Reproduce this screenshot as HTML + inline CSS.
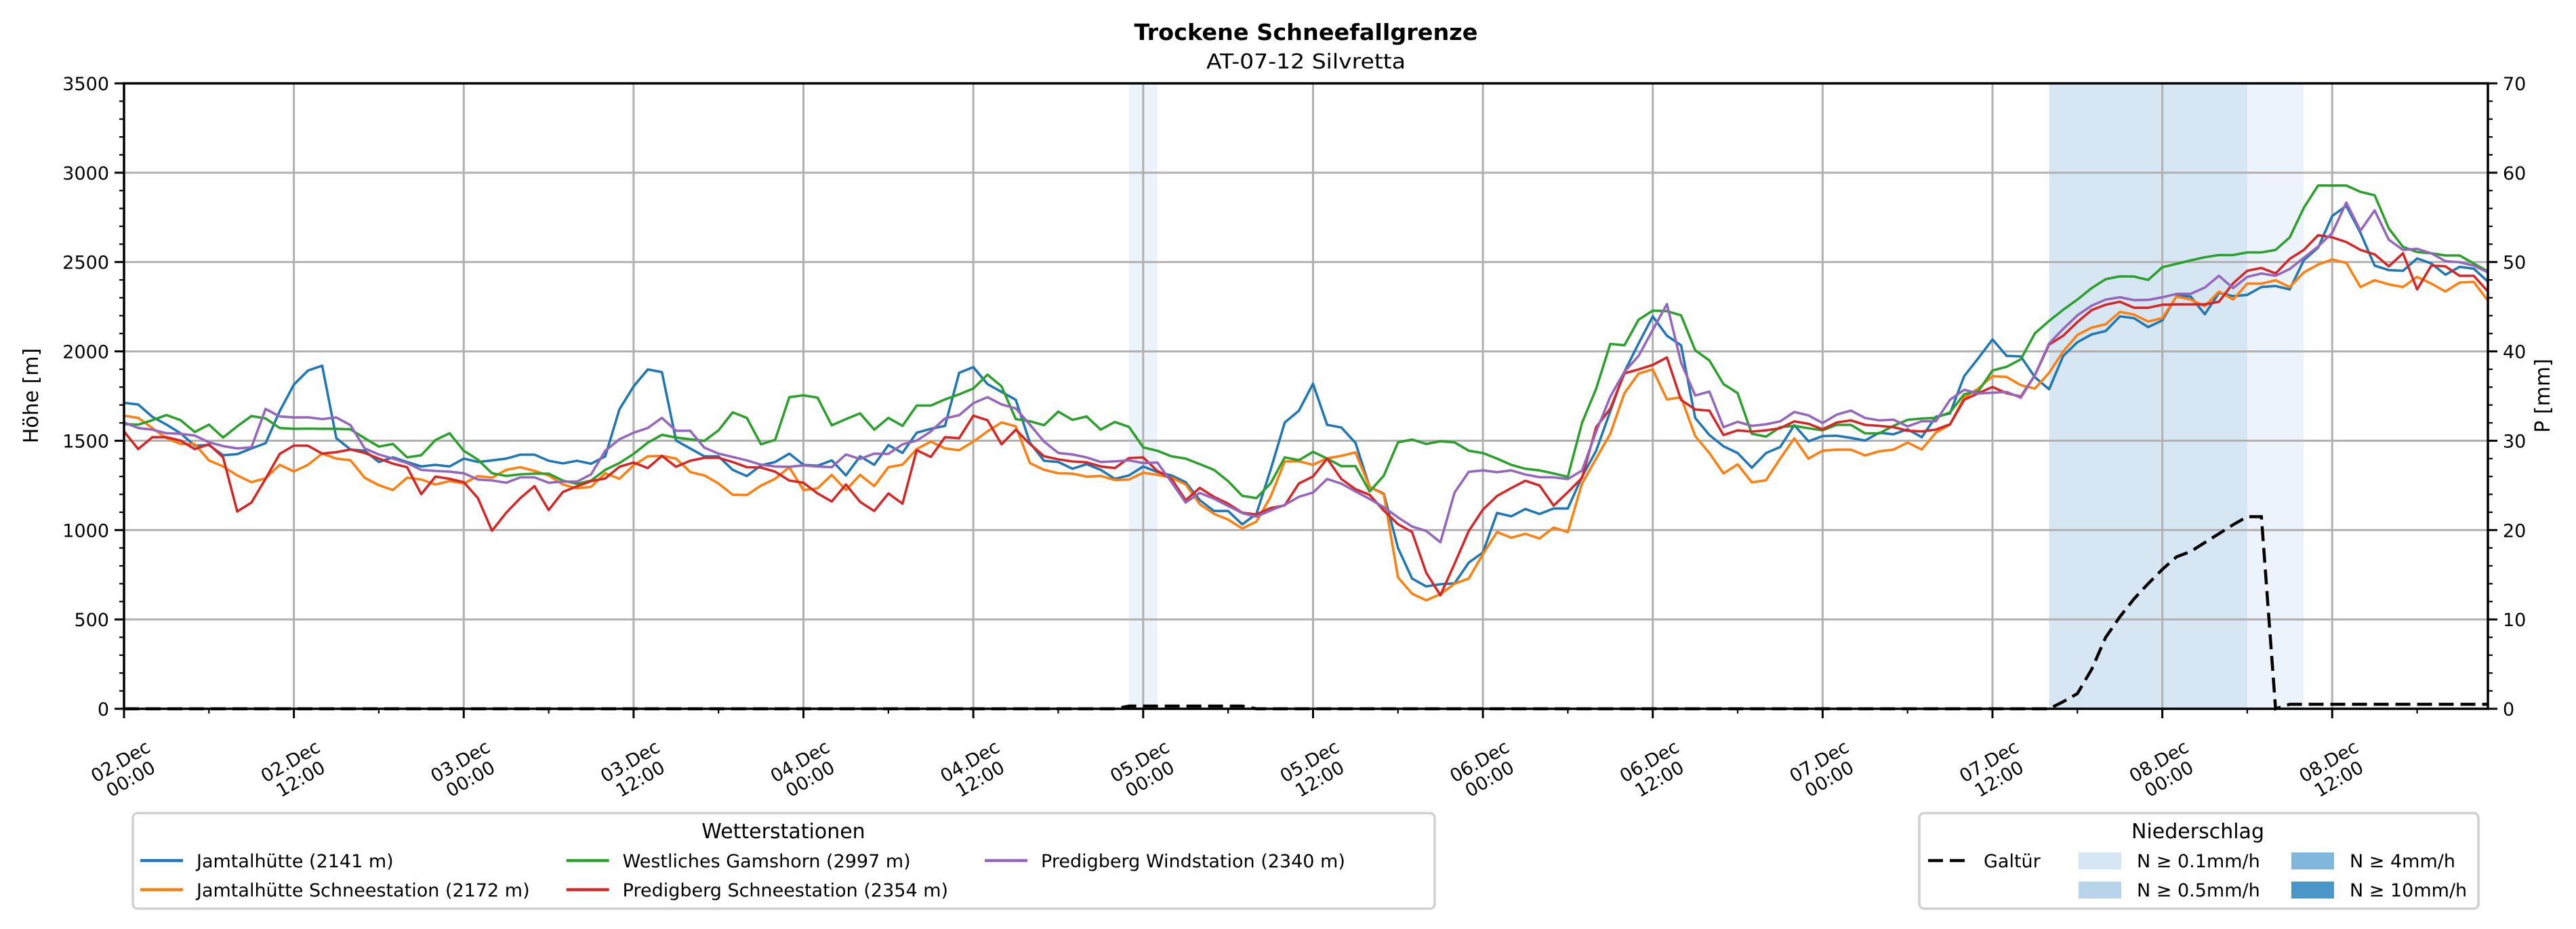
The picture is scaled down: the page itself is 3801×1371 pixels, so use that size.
<!DOCTYPE html>
<html><head><meta charset="utf-8"><title>Trockene Schneefallgrenze</title>
<style>
html,body{margin:0;padding:0;background:#fff;}
svg{display:block;font-family:"DejaVu Sans","Liberation Sans",sans-serif;}
</style></head>
<body>
<svg id="chart" xmlns="http://www.w3.org/2000/svg" width="3801" height="1371" viewBox="0 0 3801 1371">
<rect x="0" y="0" width="3801" height="1371" fill="#ffffff"/>
<text x="1927" y="59" text-anchor="middle" font-size="33" font-weight="bold" textLength="507" lengthAdjust="spacingAndGlyphs">Trockene Schneefallgrenze</text>
<text x="1927" y="101" text-anchor="middle" font-size="30" textLength="294" lengthAdjust="spacingAndGlyphs">AT-07-12 Silvretta</text>
<g id="bands"></g>
<g id="grid"></g>
<g id="series"></g>
<g id="axes"></g>
<g id="legend1"></g>
<g id="legend2"></g>
</svg>
<script>
// ---- data ----
const hourLabelsDay = ['02.Dec','02.Dec','03.Dec','03.Dec','04.Dec','04.Dec','05.Dec','05.Dec','06.Dec','06.Dec','07.Dec','07.Dec','08.Dec','08.Dec'];
const hourLabelsTime = ['00:00','12:00','00:00','12:00','00:00','12:00','00:00','12:00','00:00','12:00','00:00','12:00','00:00','12:00'];
const xTickHours = [0,12,24,36,48,60,72,84,96,108,120,132,144,156];
const yTicksLeft = [0,500,1000,1500,2000,2500,3000,3500];
const yTicksRight = [0,10,20,30,40,50,60,70];
const seriesNames = ['Jamtalhütte (2141 m)','Jamtalhütte Schneestation (2172 m)','Westliches Gamshorn (2997 m)','Predigberg Schneestation (2354 m)','Predigberg Windstation (2340 m)'];
const jamtal = [1712,1703,1634,1590,1542,1472,1476,1419,1425,1457,1486,1665,1814,1893,1920,1514,1451,1444,1381,1407,1381,1356,1365,1356,1400,1381,1390,1400,1422,1422,1388,1373,1388,1371,1413,1676,1804,1899,1884,1501,1457,1413,1413,1337,
1302,1362,1381,1428,1365,1360,1390,1306,1413,1365,1476,1432,1545,1567,1583,1880,1912,1817,1773,1729,1489,1388,1381,1343,1369,1337,1287,1306,1356,1325,1306,1268,1167,1107,1107,1032,1091,1337,1602,1668,1819,
1589,1574,1488,1241,1204,900,729,685,697,702,818,875,1096,1077,1118,1090,1121,1121,1298,1444,1665,1886,2044,2196,2088,2034,1627,1532,1469,1431,1349,1431,1465,1587,1497,1526,1528,1516,1501,1545,1536,1564,
1520,1634,1653,1861,1962,2067,1975,1972,1855,1788,1975,2051,2095,2114,2196,2186,2136,2173,2309,2307,2208,2328,2309,2316,2360,2366,2347,2511,2580,2758,2814,2663,2480,2455,2451,2520,2492,2429,2473,2463,2391];
const jamtalSchnee = [1640,1628,1571,1514,1482,1482,1390,1356,1306,1268,1290,1365,1328,1365,1428,1400,1391,1293,1251,1224,1293,1283,1255,1274,1261,1302,1293,1337,1352,1331,1306,1255,1234,1242,1318,1287,1362,1413,1415,1400,1325,1306,1261,1198,
1196,1249,1287,1352,1224,1234,1309,1224,1309,1246,1352,1366,1453,1495,1457,1447,1495,1552,1602,1581,1375,1337,1318,1316,1299,1303,1280,1283,1321,1309,1293,1255,1145,1091,1059,1009,1047,1186,1384,1385,1365,
1402,1415,1435,1241,1200,736,644,607,641,700,729,865,989,957,979,953,1014,989,1260,1400,1539,1766,1876,1899,1731,1743,1526,1431,1317,1368,1267,1279,1400,1513,1400,1444,1450,1450,1418,1441,1450,1490,
1451,1545,1590,1741,1792,1861,1857,1811,1792,1880,2000,2092,2133,2152,2221,2206,2167,2186,2307,2290,2253,2335,2290,2379,2379,2398,2360,2442,2486,2514,2495,2360,2398,2375,2360,2417,2379,2335,2385,2389,2284];
const gamshorn = [1593,1590,1615,1644,1615,1549,1590,1518,1581,1638,1625,1571,1567,1568,1567,1567,1564,1514,1467,1482,1407,1419,1504,1542,1444,1394,1318,1303,1312,1316,1316,1277,1259,1277,1337,1375,1426,1489,1533,1518,1508,1499,1558,1659,
1628,1480,1505,1744,1754,1741,1586,1621,1653,1562,1628,1583,1697,1697,1731,1760,1792,1870,1804,1621,1609,1587,1663,1617,1636,1562,1605,1577,1463,1444,1413,1400,1369,1337,1274,1192,1179,1261,1407,1391,1438,
1400,1358,1358,1216,1305,1491,1507,1482,1497,1491,1444,1431,1400,1365,1343,1334,1317,1298,1599,1791,2042,2034,2177,2228,2225,2202,2006,1949,1817,1766,1539,1523,1576,1583,1570,1558,1589,1589,1541,1541,1583,1617,
1624,1628,1659,1760,1777,1893,1914,1956,2101,2170,2233,2290,2354,2404,2420,2419,2400,2471,2490,2509,2527,2539,2539,2554,2554,2568,2638,2804,2928,2928,2928,2893,2874,2688,2585,2556,2549,2537,2537,2492,2448];
const predigSchnee = [1552,1453,1520,1520,1501,1453,1480,1407,1104,1154,1287,1426,1473,1472,1428,1436,1451,1432,1400,1372,1352,1201,1299,1287,1268,1179,996,1097,1179,1246,1112,1213,1245,1274,1289,1354,1378,1347,1415,1354,1388,1404,1404,1381,
1352,1350,1327,1277,1265,1205,1160,1255,1158,1107,1205,1148,1447,1409,1520,1514,1640,1615,1480,1562,1482,1413,1396,1384,1379,1356,1347,1403,1407,1331,1287,1167,1236,1186,1148,1097,1087,1123,1138,1261,1300,
1400,1286,1229,1197,1109,1033,989,761,635,812,995,1115,1191,1235,1276,1250,1137,1212,1292,1576,1680,1877,1899,1924,1966,1728,1675,1668,1532,1558,1551,1558,1570,1608,1595,1564,1602,1614,1589,1583,1576,1556,
1552,1562,1592,1729,1766,1801,1766,1747,1867,2038,2088,2164,2231,2261,2278,2244,2244,2261,2263,2263,2263,2278,2381,2451,2467,2436,2518,2568,2650,2638,2612,2568,2543,2476,2549,2347,2480,2476,2423,2423,2335];
const predigWind = [1602,1571,1562,1542,1539,1529,1491,1470,1457,1463,1678,1636,1630,1631,1621,1630,1587,1457,1423,1400,1375,1337,1331,1327,1318,1283,1278,1265,1295,1295,1265,1271,1271,1312,1444,1508,1545,1571,1628,1556,1556,1461,1428,1409,
1390,1366,1356,1354,1362,1356,1352,1423,1398,1428,1426,1480,1501,1552,1625,1643,1710,1744,1703,1681,1590,1495,1432,1423,1407,1381,1385,1390,1375,1378,1268,1154,1208,1176,1135,1095,1075,1110,1141,1186,1210,
1286,1260,1216,1174,1128,1071,1020,995,932,1210,1326,1334,1324,1334,1311,1296,1295,1286,1333,1551,1747,1886,1975,2120,2265,1937,1753,1775,1576,1606,1583,1592,1608,1661,1642,1599,1646,1669,1627,1614,1618,1580,
1609,1609,1729,1785,1764,1769,1773,1741,1867,2044,2126,2202,2256,2290,2303,2287,2288,2303,2322,2322,2357,2423,2354,2417,2436,2423,2461,2524,2587,2663,2833,2676,2789,2625,2568,2574,2549,2505,2499,2480,2442];
const galtur = [0,0,0,0,0,0,0,0,0,0,0,0,0,0,0,0,0,0,0,0,0,0,0,0,0,0,0,0,0,0,0,0,0,0,0,0,0,0,0,0,0,0,0,0,0,0,0,0,0,0,0,0,0,0,0,0,0,0,0,0,0,0,0,0,0,0,0,0,0,0,0,
0.3,0.3,0.3,0.3,0.3,0.3,0.3,0.3,0.3,
0,0,0,0,0,0,0,0,0,0,0,0,0,0,0,0,0,0,0,0,0,0,0,0,0,0,0,0,0,0,0,0,0,0,0,0,0,0,0,0,0,0,0,0,0,0,0,0,0,0,0,0,0,0,0,0,0,
0.8,1.7,4.4,8.0,10.3,12.3,14.0,15.6,17.0,17.6,18.6,19.6,20.6,21.5,21.5,
0,
0.5,0.5,0.5,0.5,0.5,0.5,0.5,0.5,0.5,0.5,0.5,0.5,0.5,0.5,0.5];
const bandStart = [71,136,150];
const bandEnd = [73,150,154];
const bandLevel = [0.1,0.5,0.1];

// ---- scales ----
const L=183,R=3671,T=123,B=1046;
const X_MAX=167;
function xs(h){return L+h*(R-L)/X_MAX;}
function yl(v){return B-v*(B-T)/3500;}
function yr(p){return B-p*(B-T)/70;}
const NS='http://www.w3.org/2000/svg';
function mk(tag,attrs,parent){const e=document.createElementNS(NS,tag);for(const k in attrs)e.setAttribute(k,attrs[k]);parent.appendChild(e);return e;}
const colors=['#1f77b4','#ff7f0e','#2ca02c','#d62728','#9467bd'];
const bandColor={0.1:'#edf3fa',0.5:'#d7e6f3',4:'#bfd9ec',10:'#a4c9e3'};

// bands
const gB=document.getElementById('bands');
for(let i=0;i<bandStart.length;i++){
  const r=mk('rect',{x:xs(bandStart[i]),y:T,width:xs(bandEnd[i])-xs(bandStart[i]),height:B-T,fill:bandColor[bandLevel[i]]},gB);
  
  
}
// grid
const gG=document.getElementById('grid');
xTickHours.forEach(h=>{
  const l=mk('line',{x1:xs(h),x2:xs(h),y1:T,y2:B,stroke:'#b0b0b0','stroke-width':3},gG);
  
  
});
yTicksLeft.forEach(v=>{
  const l=mk('line',{x1:L,x2:R,y1:yl(v),y2:yl(v),stroke:'#b0b0b0','stroke-width':3},gG);
  
  
});
// series
const gS=document.getElementById('series');
const allSeries=[jamtal,jamtalSchnee,gamshorn,predigSchnee,predigWind];
const seriesIds=['series-jamtalhuette','series-jamtalhuette-schneestation','series-westliches-gamshorn','series-predigberg-schneestation','series-predigberg-windstation'];
allSeries.forEach((arr,si)=>{
  const pts=arr.map((v,h)=>xs(h).toFixed(1)+','+yl(v).toFixed(1)).join(' ');
  const p=mk('polyline',{points:pts,fill:'none',stroke:colors[si],'stroke-width':3.6,'stroke-linejoin':'round'},gS);
  
  
});
const gpts=galtur.map((v,h)=>xs(h).toFixed(1)+','+yr(v).toFixed(1)).join(' ');
const gl=mk('polyline',{points:gpts,fill:'none',stroke:'#000','stroke-width':4.5,'stroke-dasharray':'22 10'},gS);



// axes
const gA=document.getElementById('axes');
const fr=mk('rect',{x:L,y:T,width:R-L,height:B-T,fill:'none',stroke:'#000','stroke-width':3.5},gA);


for(let v=0;v<=3500;v+=100){
  const maj=(v%500===0);
  const t=mk('line',{x1:L,x2:L-(maj?14:7),y1:yl(v),y2:yl(v),stroke:'#000','stroke-width':maj?3:2.2},gA);
  
  
}
for(let p=0;p<=70;p+=2){
  const maj=(p%10===0);
  const t=mk('line',{x1:R,x2:R-(maj?-14:-7),y1:yr(p),y2:yr(p),stroke:'#000','stroke-width':maj?3:2.2},gA);
  
  
}
for(let h=0;h<=166;h+=6){
  const maj=(h%12===0);
  const t=mk('line',{x1:xs(h),x2:xs(h),y1:B,y2:B+(maj?14:7),stroke:'#000','stroke-width':maj?3:2.2},gA);
  
  
}
yTicksLeft.forEach(v=>{
  const t=mk('text',{x:L-22,y:yl(v)+10,'text-anchor':'end','font-size':27},gA);
  t.textContent=String(v);
  
  
});
yTicksRight.forEach(p=>{
  const t=mk('text',{x:R+22,y:yr(p)+10,'text-anchor':'start','font-size':27},gA);
  t.textContent=String(p);
  
  
});
xTickHours.forEach((h,i)=>{
  const g=mk('g',{transform:'translate('+(xs(h)+2)+',1136) rotate(-30)'},gA);
  
  
  const a=mk('text',{x:0,y:-5,'text-anchor':'middle','font-size':27},g);
  a.textContent=hourLabelsDay[i];
  const b=mk('text',{x:0,y:25,'text-anchor':'middle','font-size':27},g);
  b.textContent=hourLabelsTime[i];
});
const yl1=mk('text',{x:0,y:0,'text-anchor':'middle','font-size':30,transform:'translate(56,584) rotate(-90)'},gA);
yl1.textContent='Höhe [m]';


const yl2=mk('text',{x:0,y:0,'text-anchor':'middle','font-size':30,transform:'translate(3762,584) rotate(-90)'},gA);
yl2.textContent='P [mm]';



// legend 1
const g1=document.getElementById('legend1');
const box1=mk('rect',{x:196,y:1200,width:1921,height:141,rx:7,fill:'#fff',stroke:'#d0d0d0','stroke-width':3.5},g1);


const t1=mk('text',{x:1156,y:1237,'text-anchor':'middle','font-size':30},g1);
t1.textContent='Wetterstationen';


const colLayout=[[0,1],[2,3],[4]];
const rowY=[1280,1323];
let cx=207;
colLayout.forEach(col=>{
  let maxW=0;
  col.forEach((si,ri)=>{
    const ln=mk('line',{x1:cx,x2:cx+63,y1:rowY[ri]-10,y2:rowY[ri]-10,stroke:colors[si],'stroke-width':4.5},g1);
    
    
    const tx=mk('text',{x:cx+83,y:rowY[ri],'font-size':27},g1);
    tx.textContent=seriesNames[si];
    
    
    maxW=Math.max(maxW,tx.getComputedTextLength());
  });
  cx=cx+83+maxW+54;
});

// legend 2
const g2=document.getElementById('legend2');
const box2=mk('rect',{x:2832,y:1200,width:825,height:141,rx:7,fill:'#fff',stroke:'#d0d0d0','stroke-width':3.5},g2);


const t2=mk('text',{x:3243,y:1237,'text-anchor':'middle','font-size':30},g2);
t2.textContent='Niederschlag';


const dl=mk('line',{x1:2845,x2:2903,y1:1270,y2:1270,stroke:'#000','stroke-width':4.5,'stroke-dasharray':'22 10'},g2);


const gt=mk('text',{x:2927,y:1280,'font-size':27},g2);
gt.textContent='Galtür';


const swLabels=['N ≥ 0.1mm/h','N ≥ 0.5mm/h','N ≥ 4mm/h','N ≥ 10mm/h'];
const swColors=['#d6e6f4','#b8d4ea','#80b7da','#4a96c9'];
const swX=[3067,3067,3381,3381];
swLabels.forEach((lab,i)=>{
  const row=i%2;
  const r=mk('rect',{x:swX[i],y:row===0?1258:1301,width:63,height:25,fill:swColors[i]},g2);
  
  
  const tx=mk('text',{x:swX[i]+86,y:rowY[row],'font-size':27},g2);
  tx.textContent=lab;
  
  
});
</script>
</body></html>
